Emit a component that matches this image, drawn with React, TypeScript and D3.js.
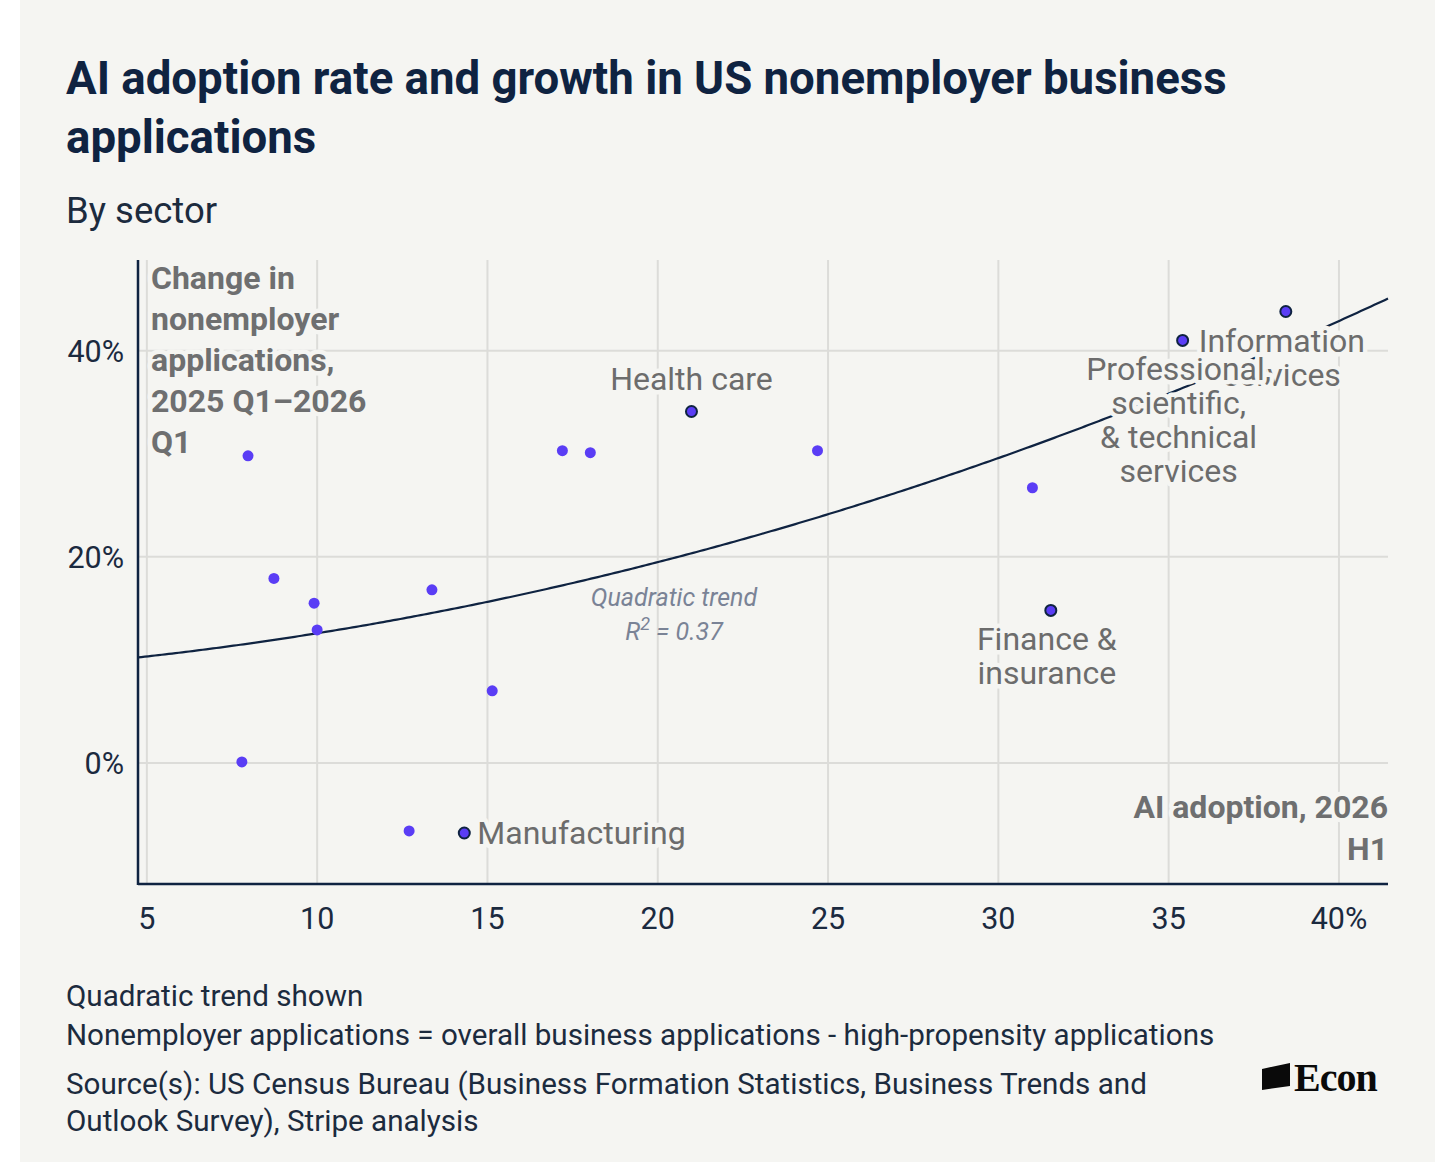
import { useEffect } from "react"
import * as d3 from "d3"

// AI adoption (x, %) and change in nonemployer applications (y, %) by sector
const sectors = [
  "", "", "", "", "", "", "Manufacturing", "", "", "", "", "Health care", "", "", "Finance &\ninsurance",
  "Professional,\nscientific,\n& technical\nservices", "Information\nservices",
]
const adoption = [7.97, 8.73, 9.91, 10.0, 7.79, 12.7, 14.32, 13.37, 15.14, 17.2, 18.02, 20.99, 24.69, 31.0, 31.54, 35.41, 38.44]
const growth = [29.8, 17.9, 15.5, 12.9, 0.1, -6.6, -6.8, 16.8, 7.0, 30.3, 30.1, 34.1, 30.3, 26.7, 14.8, 41.0, 43.8]
// where each label sits relative to its dot
const labelPos = ["", "", "", "", "", "", "right", "", "", "", "", "above", "", "", "below", "below", "below"]

const xTicks = [5, 10, 15, 20, 25, 30, 35, 40]
const yTicks = [0, 20, 40]
// quadratic trend coefficients (a + b x + c x^2), R^2 = 0.37
const trendCoef = [8.88, 0.21, 0.016]

const W = 1456
const H = 1166
const bg = "#f5f5f2"
const navy = "#0f2341"
const labelGray = "#6c6c6c"
const dotColor = "#5a3df5"
const font = "Roboto, 'Noto Sans', sans-serif"

export default function App() {
  useEffect(() => {
    document.body.style.margin = "0"
    document.body.style.background = "#ffffff"
  }, [])

  const x = d3.scaleLinear().domain([4.74, 41.44]).range([138, 1388])
  const y = d3.scaleLinear().domain([-11.75, 48.8]).range([884, 260])
  const [x0, x1] = x.range()
  const [yb, yt] = y.range()

  const trendLine = d3.line<number>()
    .x(d => x(d))
    .y(d => y(trendCoef[0] + trendCoef[1] * d + trendCoef[2] * d * d))
  const trendXs = d3.range(x.domain()[0], x.domain()[1] + 0.001, 0.1)

  const halo = { stroke: bg, strokeWidth: 9, paintOrder: "stroke" as const, strokeLinejoin: "round" as const }

  const points = adoption.map((a, i) => ({ a, g: growth[i], name: sectors[i], pos: labelPos[i] }))
  // later labels first so that the Professional label sits on top of the Information one
  const labelled = points.filter(p => p.name).reverse()

  return (
    <svg width={W} height={H} viewBox={`0 0 ${W} ${H}`} style={{ display: "block" }} xmlns="http://www.w3.org/2000/svg">
      <rect x={0} y={0} width={W} height={H} fill="#ffffff" />
      <rect x={20} y={0} width={1415} height={1162} fill={bg} />

      {/* Title */}
      <text x={66} y={94} fontFamily={font} fontWeight={700} fontSize={45.6} fill={navy}>
        AI adoption rate and growth in US nonemployer business
      </text>
      <text x={66} y={153} fontFamily={font} fontWeight={700} fontSize={45.6} fill={navy}>
        applications
      </text>
      <text x={66} y={223} fontFamily={font} fontSize={36.5} fill="#1c2b3e">By sector</text>

      {/* Grid */}
      <g stroke="#dcdcd9" strokeWidth={2}>
        {xTicks.map(t => (
          <line key={"gx" + t} x1={x(t)} x2={x(t)} y1={yt} y2={yb} />
        ))}
        {yTicks.map(t => (
          <line key={"gy" + t} x1={x0} x2={x1} y1={y(t)} y2={y(t)} />
        ))}
      </g>

      {/* Axes */}
      <line x1={x0} x2={x0} y1={yt} y2={yb + 1} stroke={navy} strokeWidth={2.5} />
      <line x1={x0} x2={x1} y1={yb} y2={yb} stroke={navy} strokeWidth={2.5} />
      <g fontFamily={font} fontSize={30.5} fill="#1b2a3f">
        {xTicks.map(t => (
          <text key={"tx" + t} x={x(t)} y={929} textAnchor="middle">{t === 40 ? "40%" : t}</text>
        ))}
        {yTicks.map(t => (
          <text key={"ty" + t} x={124} y={y(t) + 11} textAnchor="end">{t + "%"}</text>
        ))}
      </g>

      {/* Trend */}
      <path d={trendLine(trendXs) ?? ""} fill="none" stroke={navy} strokeWidth={2.2} />
      <g fontFamily={font} fontStyle="italic" fontSize={25} fill="#7a8396" textAnchor="middle">
        <text x={674} y={606}>Quadratic trend</text>
        <text x={674} y={640}>
          R<tspan dy={-10} fontSize={18}>2</tspan><tspan dy={10}> = 0.37</tspan>
        </text>
      </g>

      {/* Dots */}
      {points.map((p, i) => (
        <circle key={"c" + i} cx={x(p.a)} cy={y(p.g)} r={5.5}
          fill={dotColor} stroke={p.name ? navy : "none"} strokeWidth={p.name ? 2 : 0} />
      ))}

      {/* Axis titles */}
      <g fontFamily={font} fontWeight={700} fontSize={32} fill="#6e6f70" {...halo}>
        {["Change in", "nonemployer", "applications,", "2025 Q1\u20132026", "Q1"].map((l, i) => (
          <text key={"yt" + i} x={151} y={289 + i * 41}>{l}</text>
        ))}
        {["AI adoption, 2026", "H1"].map((l, i) => (
          <text key={"xt" + i} x={1388} y={818 + i * 42} textAnchor="end">{l}</text>
        ))}
      </g>

      {/* Sector labels */}
      <g fontFamily={font} fontSize={32} fill={labelGray} {...halo}>
        {labelled.map((p, i) => {
          const lines = p.name.split("\n")
          const cx = x(p.a)
          const cy = y(p.g)
          if (p.pos === "right") {
            return <text key={"l" + i} x={cx + 13} y={cy + 11}>{p.name}</text>
          }
          if (p.pos === "above") {
            return <text key={"l" + i} x={cx} y={cy - 21} textAnchor="middle">{p.name}</text>
          }
          return (
            <text key={"l" + i} x={cx - 4} y={cy + 40} textAnchor="middle">
              {lines.map((l, j) => (
                <tspan key={j} x={cx - 4} dy={j === 0 ? 0 : 34}>{l}</tspan>
              ))}
            </text>
          )
        })}
      </g>

      {/* Notes */}
      <g fontFamily={font} fontSize={29.6} fill="#1c2b3e">
        <text x={66} y={1006}>Quadratic trend shown</text>
        <text x={66} y={1045}>Nonemployer applications = overall business applications - high-propensity applications</text>
        <text x={66} y={1094}>Source(s): US Census Bureau (Business Formation Statistics, Business Trends and</text>
        <text x={66} y={1131}>Outlook Survey), Stripe analysis</text>
      </g>

      {/* Logo */}
      <polygon points="1262,1069 1290,1063 1290,1086 1262,1090" fill="#0a0a0a" />
      <text x={1294} y={1091} fontFamily="'Liberation Serif', 'DejaVu Serif', serif" fontWeight={700} fontSize={40} fill="#0a0a0a" letterSpacing={-1}>Econ</text>
    </svg>
  )
}
